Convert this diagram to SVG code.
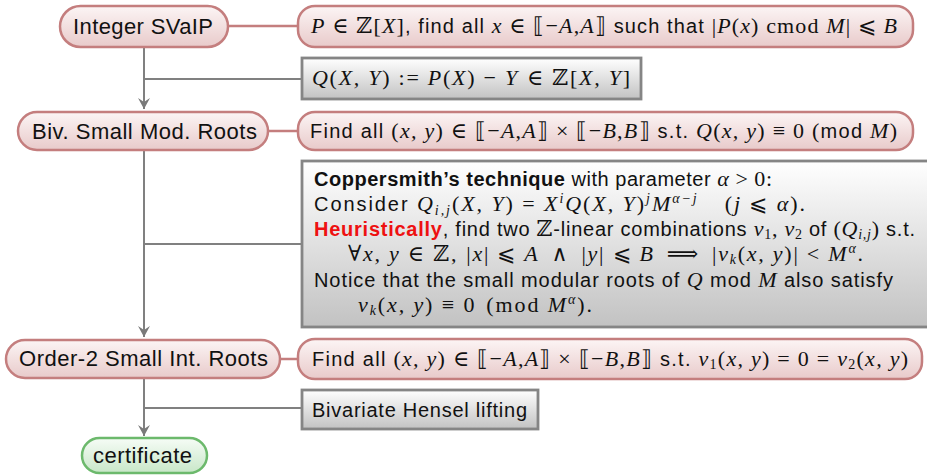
<svg xmlns="http://www.w3.org/2000/svg" width="927" height="475" viewBox="0 0 927 475">
<defs>
<linearGradient id="gRed" x1="0" y1="0" x2="0" y2="1"><stop offset="0" stop-color="#fcf5f5"/><stop offset="1" stop-color="#e8caca"/></linearGradient>
<linearGradient id="gGray" x1="0" y1="0" x2="0" y2="1"><stop offset="0" stop-color="#ffffff"/><stop offset="1" stop-color="#c2c2c2"/></linearGradient>
<linearGradient id="gGreen" x1="0" y1="0" x2="0" y2="1"><stop offset="0" stop-color="#f6fcf6"/><stop offset="1" stop-color="#c8e7c8"/></linearGradient>
<marker id="arr" viewBox="-12 -7 14 14" refX="0" refY="0" markerWidth="14" markerHeight="14" orient="auto" markerUnits="userSpaceOnUse"><path d="M0,0 L-11,-6 L-7,0 L-11,6 Z" fill="#7a7a7a"/></marker>
</defs>
<style>
.red{fill:url(#gRed);stroke:#c47e7e;stroke-width:2.5}
.gray{fill:url(#gGray);stroke:#858585;stroke-width:2.8}
.green{fill:url(#gGreen);stroke:#6cb96c;stroke-width:2.5}
.lbl{font-family:"Liberation Sans","DejaVu Sans",sans-serif;font-size:22px;fill:#111;text-anchor:middle}
.t{font-family:"Liberation Sans","DejaVu Sans",sans-serif;font-size:20px;fill:#111}
.m{font-family:"Liberation Serif","DejaVu Serif",serif;font-style:italic;font-size:22px}
.r{font-family:"Liberation Serif","DejaVu Serif",serif;font-style:normal;font-size:22px}
.s{font-size:14px}
.b{font-weight:bold}
.hl{font-weight:bold;fill:#ee1111}
.conn{stroke:#808080;stroke-width:2;fill:none}
.link{stroke:#c47e7e;stroke-width:2.5;fill:none}
</style>

<g id="connectors">
<line class="link" x1="228" y1="26" x2="298" y2="26"/>
<line class="link" x1="268" y1="131" x2="298" y2="131"/>
<line class="link" x1="280" y1="359" x2="298" y2="359"/>
<line class="conn" x1="144" y1="47" x2="144" y2="109" marker-end="url(#arr)"/>
<line class="conn" x1="144" y1="79" x2="302" y2="79"/>
<line class="conn" x1="144" y1="150" x2="144" y2="337" marker-end="url(#arr)"/>
<line class="conn" x1="144" y1="244" x2="302" y2="244"/>
<line class="conn" x1="144" y1="377" x2="144" y2="436" marker-end="url(#arr)"/>
<line class="conn" x1="144" y1="408" x2="302" y2="408"/>
</g>

<g id="n-svalp">
<rect class="red" x="60" y="6" width="168" height="41" rx="20.5"/>
<text class="lbl" x="143" y="34" textLength="140" lengthAdjust="spacing">Integer SVaIP</text>
</g>

<g id="n-svalp-desc">
<rect class="red" x="298" y="6" width="615" height="41" rx="17"/>
<text class="t" x="311" y="33" textLength="586" lengthAdjust="spacing"><tspan class="m">P</tspan><tspan class="r"> ∈ ℤ[</tspan><tspan class="m">X</tspan><tspan class="r">]</tspan>, find all <tspan class="m">x</tspan><tspan class="r"> ∈ ⟦−</tspan><tspan class="m">A</tspan><tspan class="r">,</tspan><tspan class="m">A</tspan><tspan class="r">⟧</tspan> such that <tspan class="r">|</tspan><tspan class="m">P</tspan><tspan class="r">(</tspan><tspan class="m">x</tspan><tspan class="r">) cmod </tspan><tspan class="m">M</tspan><tspan class="r">| ⩽ </tspan><tspan class="m">B</tspan></text>
</g>

<g id="n-q">
<rect class="gray" x="302" y="58" width="339" height="41"/>
<text class="t" x="312" y="85" textLength="318" lengthAdjust="spacing"><tspan class="m">Q</tspan><tspan class="r">(</tspan><tspan class="m">X, Y</tspan><tspan class="r">) := </tspan><tspan class="m">P</tspan><tspan class="r">(</tspan><tspan class="m">X</tspan><tspan class="r">) − </tspan><tspan class="m">Y</tspan><tspan class="r" dx="8">∈ ℤ[</tspan><tspan class="m">X, Y</tspan><tspan class="r">]</tspan></text>
</g>

<g id="n-biv">
<rect class="red" x="18" y="112" width="250" height="38" rx="19"/>
<text class="lbl" x="144.5" y="139" textLength="225" lengthAdjust="spacing">Biv. Small Mod. Roots</text>
</g>

<g id="n-biv-desc">
<rect class="red" x="298" y="112" width="615" height="38" rx="17"/>
<text class="t" x="310" y="138" textLength="587" lengthAdjust="spacing">Find all <tspan class="r">(</tspan><tspan class="m">x, y</tspan><tspan class="r">) ∈ ⟦−</tspan><tspan class="m">A</tspan><tspan class="r">,</tspan><tspan class="m">A</tspan><tspan class="r">⟧ × ⟦−</tspan><tspan class="m">B</tspan><tspan class="r">,</tspan><tspan class="m">B</tspan><tspan class="r">⟧</tspan> s.t. <tspan class="m">Q</tspan><tspan class="r">(</tspan><tspan class="m">x, y</tspan><tspan class="r">) ≡ 0 (</tspan>mod <tspan class="m">M</tspan><tspan class="r">)</tspan></text>
</g>

<g id="n-copper">
<rect class="gray" x="302" y="161" width="640" height="166"/>
<text class="t" x="314" y="186" textLength="458" lengthAdjust="spacing"><tspan class="b">Coppersmith’s technique</tspan> with parameter <tspan class="m">α</tspan><tspan class="r"> &gt; 0:</tspan></text>
<text class="t" x="314" y="211" textLength="491" lengthAdjust="spacing">Consider <tspan class="m">Q</tspan><tspan class="m s" dy="4">i,j</tspan><tspan class="r" dy="-4">(</tspan><tspan class="m">X, Y</tspan><tspan class="r">) = </tspan><tspan class="m">X</tspan><tspan class="m s" dy="-8">i</tspan><tspan class="m" dy="8">Q</tspan><tspan class="r">(</tspan><tspan class="m">X, Y</tspan><tspan class="r">)</tspan><tspan class="m s" dy="-8">j</tspan><tspan class="m" dy="8">M</tspan><tspan class="m s" dy="-8">α−j</tspan><tspan class="r" dy="8" dx="26">(</tspan><tspan class="m">j</tspan><tspan class="r"> ⩽ </tspan><tspan class="m">α</tspan><tspan class="r">).</tspan></text>
<text class="t" x="314" y="236" textLength="601" lengthAdjust="spacing"><tspan class="hl">Heuristically</tspan>, find two <tspan class="r">ℤ</tspan>-linear combinations <tspan class="m">v</tspan><tspan class="r s" dy="3">1</tspan><tspan class="r" dy="-3">, </tspan><tspan class="m">v</tspan><tspan class="r s" dy="3">2</tspan><tspan dy="-3"> of </tspan><tspan class="r">(</tspan><tspan class="m">Q</tspan><tspan class="m s" dy="3">i,j</tspan><tspan class="r" dy="-3">)</tspan> s.t.</text>
<text class="t" x="348" y="261" textLength="515" lengthAdjust="spacing"><tspan class="r">∀</tspan><tspan class="m">x, y</tspan><tspan class="r"> ∈ ℤ,</tspan><tspan class="r" dx="8">|</tspan><tspan class="m">x</tspan><tspan class="r">| ⩽ </tspan><tspan class="m">A</tspan><tspan class="r" dx="12">∧</tspan><tspan class="r" dx="12">|</tspan><tspan class="m">y</tspan><tspan class="r">| ⩽ </tspan><tspan class="m">B</tspan><tspan class="r" dx="12">⟹</tspan><tspan class="r" dx="12">|</tspan><tspan class="m">v</tspan><tspan class="m s" dy="3">k</tspan><tspan class="r" dy="-3">(</tspan><tspan class="m">x, y</tspan><tspan class="r">)| &lt; </tspan><tspan class="m">M</tspan><tspan class="m s" dy="-8">α</tspan><tspan class="r" dy="8">.</tspan></text>
<text class="t" x="314" y="287" textLength="579" lengthAdjust="spacing">Notice that the small modular roots of <tspan class="m">Q</tspan> mod <tspan class="m">M</tspan> also satisfy</text>
<text class="t" x="358" y="312" textLength="234" lengthAdjust="spacing"><tspan class="m">v</tspan><tspan class="m s" dy="3">k</tspan><tspan class="r" dy="-3">(</tspan><tspan class="m">x, y</tspan><tspan class="r">) ≡ 0</tspan><tspan class="r" dx="10">(mod </tspan><tspan class="m">M</tspan><tspan class="m s" dy="-8">α</tspan><tspan class="r" dy="8">).</tspan></text>
</g>

<g id="n-order2">
<rect class="red" x="6" y="340" width="274" height="38" rx="19"/>
<text class="lbl" x="143.5" y="366" textLength="249" lengthAdjust="spacing">Order-2 Small Int. Roots</text>
</g>

<g id="n-order2-desc">
<rect class="red" x="298" y="339" width="624" height="40" rx="17"/>
<text class="t" x="312" y="366" textLength="596" lengthAdjust="spacing">Find all <tspan class="r">(</tspan><tspan class="m">x, y</tspan><tspan class="r">) ∈ ⟦−</tspan><tspan class="m">A</tspan><tspan class="r">,</tspan><tspan class="m">A</tspan><tspan class="r">⟧ × ⟦−</tspan><tspan class="m">B</tspan><tspan class="r">,</tspan><tspan class="m">B</tspan><tspan class="r">⟧</tspan> s.t. <tspan class="m">v</tspan><tspan class="r s" dy="3">1</tspan><tspan class="r" dy="-3">(</tspan><tspan class="m">x, y</tspan><tspan class="r">) = 0 = </tspan><tspan class="m">v</tspan><tspan class="r s" dy="3">2</tspan><tspan class="r" dy="-3">(</tspan><tspan class="m">x, y</tspan><tspan class="r">)</tspan></text>
</g>

<g id="n-hensel">
<rect class="gray" x="302" y="390" width="236" height="39"/>
<text class="t" x="312" y="417" textLength="215" lengthAdjust="spacing">Bivariate Hensel lifting</text>
</g>

<g id="n-cert">
<rect class="green" x="82" y="438" width="125" height="35" rx="17.5"/>
<text class="lbl" x="142.5" y="463" textLength="99" lengthAdjust="spacing">certificate</text>
</g>
</svg>
